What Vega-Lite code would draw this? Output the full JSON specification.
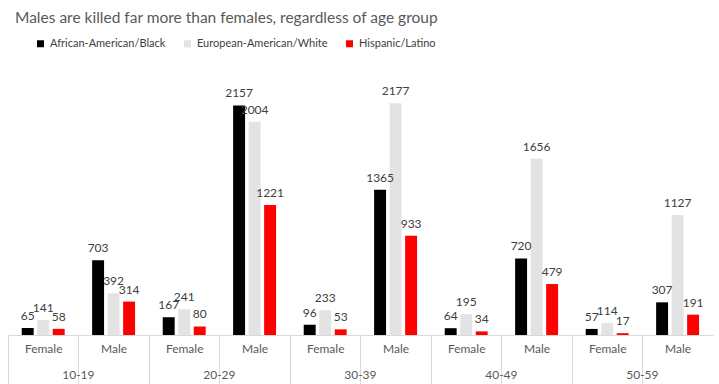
{
  "$schema": "https://vega.github.io/schema/vega-lite/v6.json",
  "padding": {"left": 7, "right": 0, "top": 10, "bottom": 0},
  "background": "white",
  "title": {"text": "Males are killed far more than females, regardless of age group", "anchor": "start", "frame": "group", "dx": 7, "fontSize": 15.5, "font": "Lato", "fontWeight": "normal", "color": "#595959", "offset": 12},
  "data": {"values": [
    {"age": "10-19", "sex": "Female", "race": "African-American/Black", "value": 65},
    {"age": "10-19", "sex": "Female", "race": "European-American/White", "value": 141},
    {"age": "10-19", "sex": "Female", "race": "Hispanic/Latino", "value": 58},
    {"age": "10-19", "sex": "Male", "race": "African-American/Black", "value": 703},
    {"age": "10-19", "sex": "Male", "race": "European-American/White", "value": 392},
    {"age": "10-19", "sex": "Male", "race": "Hispanic/Latino", "value": 314},
    {"age": "20-29", "sex": "Female", "race": "African-American/Black", "value": 167},
    {"age": "20-29", "sex": "Female", "race": "European-American/White", "value": 241},
    {"age": "20-29", "sex": "Female", "race": "Hispanic/Latino", "value": 80},
    {"age": "20-29", "sex": "Male", "race": "African-American/Black", "value": 2157},
    {"age": "20-29", "sex": "Male", "race": "European-American/White", "value": 2004},
    {"age": "20-29", "sex": "Male", "race": "Hispanic/Latino", "value": 1221},
    {"age": "30-39", "sex": "Female", "race": "African-American/Black", "value": 96},
    {"age": "30-39", "sex": "Female", "race": "European-American/White", "value": 233},
    {"age": "30-39", "sex": "Female", "race": "Hispanic/Latino", "value": 53},
    {"age": "30-39", "sex": "Male", "race": "African-American/Black", "value": 1365},
    {"age": "30-39", "sex": "Male", "race": "European-American/White", "value": 2177},
    {"age": "30-39", "sex": "Male", "race": "Hispanic/Latino", "value": 933},
    {"age": "40-49", "sex": "Female", "race": "African-American/Black", "value": 64},
    {"age": "40-49", "sex": "Female", "race": "European-American/White", "value": 195},
    {"age": "40-49", "sex": "Female", "race": "Hispanic/Latino", "value": 34},
    {"age": "40-49", "sex": "Male", "race": "African-American/Black", "value": 720},
    {"age": "40-49", "sex": "Male", "race": "European-American/White", "value": 1656},
    {"age": "40-49", "sex": "Male", "race": "Hispanic/Latino", "value": 479},
    {"age": "50-59", "sex": "Female", "race": "African-American/Black", "value": 57},
    {"age": "50-59", "sex": "Female", "race": "European-American/White", "value": 114},
    {"age": "50-59", "sex": "Female", "race": "Hispanic/Latino", "value": 17},
    {"age": "50-59", "sex": "Male", "race": "African-American/Black", "value": 307},
    {"age": "50-59", "sex": "Male", "race": "European-American/White", "value": 1127},
    {"age": "50-59", "sex": "Male", "race": "Hispanic/Latino", "value": 191}
  ]},
  "facet": {
    "column": {"field": "age", "type": "nominal", "title": null,
      "header": {"labelOrient": "bottom", "labelPadding": -16, "labelFont": "Lato", "labelFontSize": 12, "labelColor": "#595959"}}
  },
  "spacing": 0,
  "spec": {
    "width": 140.8,
    "height": 266,
    "encoding": {
      "x": {"field": "sex", "type": "nominal", "title": null,
        "scale": {"paddingInner": 0, "paddingOuter": 0},
        "axis": {"labelAngle": 0, "labelFont": "Lato", "labelFontSize": 12, "labelColor": "#595959", "labelPadding": -42,
          "domainColor": "#d9d9d9", "tickBand": "extent", "tickSize": 50,
          "tickColor": {"condition": {"test": "datum.value === 'Male'", "value": "transparent"}, "value": "#d9d9d9"}}},
      "xOffset": {"field": "race", "type": "nominal", "scale": {"paddingInner": 0.23, "paddingOuter": 0.885}},
      "y": {"field": "value", "type": "quantitative", "scale": {"domain": [0, 2500]}, "axis": null}
    },
    "layer": [
      {"mark": {"type": "bar"},
       "encoding": {"color": {"field": "race", "type": "nominal", "title": null,
         "scale": {"domain": ["African-American/Black", "European-American/White", "Hispanic/Latino"], "range": ["#000000", "#e3e3e3", "#ff0000"]},
         "legend": {"orient": "none", "direction": "horizontal", "legendX": 27, "legendY": -31, "symbolType": "square", "symbolSize": 49, "symbolStrokeWidth": 0, "labelFont": "Lato", "labelFontSize": 11, "labelColor": "#404040", "labelOffset": 4, "columnPadding": 16}}}},
      {"mark": {"type": "text", "baseline": "bottom", "dy": -5, "font": "Lato", "fontSize": 12, "color": "#404040"},
       "encoding": {"text": {"field": "value", "type": "quantitative"}}}
    ]
  },
  "config": {"view": {"stroke": null}}
}
